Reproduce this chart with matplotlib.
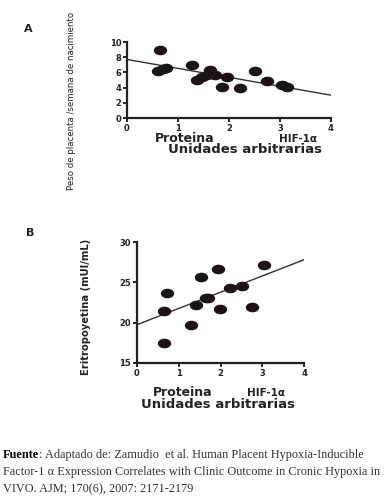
import numpy as np
import matplotlib
matplotlib.use('Agg')
import matplotlib.pyplot as plt
from matplotlib.path import Path

# ── Data ───────────────────────────────────────────────────────────────
a_x = [0.65, 0.60, 0.70, 0.76, 1.27, 1.37, 1.47, 1.57, 1.63, 1.73, 1.86, 1.96, 2.22, 2.51, 2.74, 3.03, 3.13]
a_y = [9.0, 6.2, 6.4, 6.6, 7.0, 5.0, 5.4, 5.7, 6.3, 5.7, 4.1, 5.4, 3.9, 6.2, 4.9, 4.3, 4.1]
a_fit = [7.7, 3.0]   # fitted y at x = 0 and x = 4

b_x = [0.72, 0.64, 0.64, 1.29, 1.41, 1.54, 1.66, 1.71, 1.95, 1.98, 2.23, 2.51, 2.76, 3.05]
b_y = [23.7, 21.5, 17.5, 19.75, 22.2, 25.7, 23.0, 23.1, 26.6, 21.65, 24.3, 24.6, 21.9, 27.2]
b_fit = [19.75, 27.8]

X_TICKS = [0, 1, 2, 3, 4]
A_YTICKS = [0, 2, 4, 6, 8, 10]
B_YTICKS = [15, 20, 25, 30]

DOT = '#1c1414'
INK = '#222222'
SERIF = 'Liberation Serif'

# slightly wide ellipse marker, as in the scanned figure
circ = Path.unit_circle()
ell = Path(circ.vertices * np.array([1.0, 0.68]), circ.codes)

W, H = 384, 501
fig = plt.figure(figsize=(W / 100, H / 100), dpi=100)


def px_axes(left, top, right, bottom):
    return fig.add_axes([left / W, 1 - bottom / H, (right - left) / W, (bottom - top) / H])


def ptext(x, y, s, **kw):
    kw.setdefault('ha', 'center')
    kw.setdefault('va', 'center')
    kw.setdefault('color', INK)
    return fig.text(x / W, 1 - y / H, s, **kw)


def style(ax, yticks, ylim):
    ax.set_xlim(0, 4)
    ax.set_ylim(*ylim)
    ax.set_xticks(X_TICKS)
    ax.set_yticks(yticks)
    for s in ['top', 'right']:
        ax.spines[s].set_visible(False)
    for s in ['left', 'bottom']:
        ax.spines[s].set_linewidth(1.6)
        ax.spines[s].set_color(INK)
    ax.tick_params(direction='out', length=3, width=1.4, labelsize=6, pad=1.2, colors=INK)
    for lab in ax.get_xticklabels() + ax.get_yticklabels():
        lab.set_fontweight('bold')
    ax.patch.set_alpha(0)


# ── Panel A ────────────────────────────────────────────────────────────
axA = px_axes(127, 42, 331, 118)
axA.plot([0, 4], a_fit, color='#333333', lw=1.0, zorder=1)
axA.scatter(a_x, a_y, marker=ell, s=75, color=DOT, zorder=3, clip_on=False)
style(axA, A_YTICKS, (0, 10))

ptext(28, 29, 'A', fontsize=8, fontweight='bold')
ptext(71, 101, 'Peso de placenta /semana de nacimiento', rotation=90,
      fontsize=6.25, family='DejaVu Sans')
ptext(185, 138, 'Proteina', fontsize=9, fontweight='bold')
ptext(298, 139, 'HIF-1\u03b1', fontsize=7.5, fontweight='bold')
ptext(245, 149.5, 'Unidades arbitrarias', fontsize=9.5, fontweight='bold')

# ── Panel B ────────────────────────────────────────────────────────────
axB = px_axes(137, 242, 304, 363)
axB.plot([0, 4], b_fit, color='#333333', lw=1.0, zorder=1)
axB.scatter(b_x, b_y, marker=ell, s=75, color=DOT, zorder=3, clip_on=False)
style(axB, B_YTICKS, (15, 30))

ptext(30, 233, 'B', fontsize=8, fontweight='bold')
ptext(86, 307, 'Eritropoyetina (mUI/mL)', rotation=90,
      fontsize=7.2, fontweight='bold', family='DejaVu Sans')
ptext(183, 392, 'Proteina', fontsize=9, fontweight='bold')
ptext(266, 393, 'HIF-1\u03b1', fontsize=7.5, fontweight='bold')
ptext(218, 404, 'Unidades arbitrarias', fontsize=9.5, fontweight='bold')

# ── Source note ────────────────────────────────────────────────────────
FS = 8.8
lead = ptext(3, 455, 'Fuente', fontsize=FS, fontweight='bold', family=SERIF,
             ha='left', color='black')
fig.canvas.draw()
x_end = lead.get_window_extent().x1
ptext(x_end, 455, ': Adaptado de: Zamudio  et al. Human Placent Hypoxia-Inducible',
      fontsize=FS, family=SERIF, ha='left', color='#333333')
ptext(3, 472, 'Factor-1 \u03b1 Expression Correlates with Clinic Outcome in Cronic Hypoxia in',
      fontsize=FS, family=SERIF, ha='left', color='#333333')
ptext(3, 489, 'VIVO. AJM; 170(6), 2007: 2171-2179',
      fontsize=FS, family=SERIF, ha='left', color='#333333')

fig.savefig('out.png', dpi=100, facecolor='white')
